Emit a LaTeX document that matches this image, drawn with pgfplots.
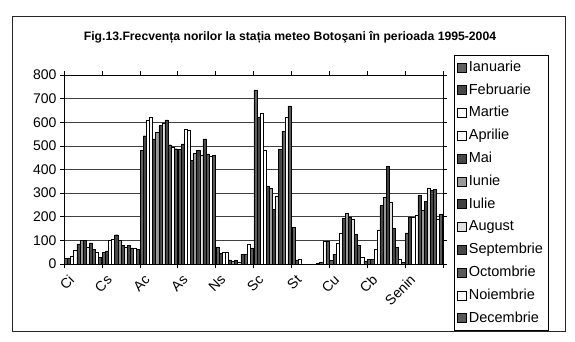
\documentclass[border=0pt]{standalone}
\usepackage{fontspec}
\setmainfont{Liberation Sans}
\usepackage{pgfplots}
\pgfplotsset{compat=1.18}
\begin{document}
\begin{tikzpicture}[x=1pt,y=1pt]
\path[fill=white] (0,0) rectangle (575,341);
\draw[line width=1pt, black!85] (12,10) rectangle (565,324);
\node[font=\bfseries\fontsize{12.2}{14}\selectfont] at (290,304) {Fig.13.Frecvența norilor la stația meteo Botoşani în perioada 1995-2004};
\begin{axis}[
  at={(64pt,77pt)}, anchor=south west,
  scale only axis, width=379pt, height=189pt,
  ymin=0, ymax=800, ytick={0,100,...,800},
  xmin=-0.5, xmax=9.5,
  xtick={0,...,9},
  xticklabels={Ci,Cs,Ac,As,Ns,Sc,St,Cu,Cb,Senin},
  minor xtick={-0.5,0.5,...,9.5},
  tick align=outside,
  major tick length=4pt, minor tick length=4pt,
  major x tick style={draw=none},
  minor x tick style={black, line width=0.6pt},
  ytick style={black, line width=0.6pt},
  ymajorgrids, grid style={black!75, line width=0.7pt},
  axis line style={black, line width=0.7pt},
  ybar=0pt, bar width=3.1pt,
  /pgf/number format/assume math mode=true,
  ticklabel style={font=\fontsize{14}{16}\selectfont},
  xticklabel style={xshift=-15pt, yshift=-1pt, rotate=45, anchor=north east},
  legend style={at={(1,1)}, anchor=north west, xshift=11pt, yshift=20pt,
    draw=black, line width=0.7pt, font=\fontsize{14.5}{16}\selectfont,
    row sep=4.8pt, inner xsep=3pt, inner ysep=3pt,
    nodes={text height=11pt, text depth=3pt, inner sep=2pt}},
  legend cell align=left,
  legend image code/.code={\draw[#1, draw=black, line width=0.5pt] (0pt,-4.5pt) rectangle (9pt,4.5pt);},
  every axis plot/.append style={draw=black, line width=0.4pt},
]
\addplot[fill=black!62] coordinates {(0,24) (1,49) (2,480) (3,486) (4,73) (5,737) (6,155) (7,14) (8,20) (9,132)};
\addplot[fill=black!72] coordinates {(0,25) (1,56) (2,543) (3,508) (4,45) (5,620) (6,18) (7,42) (8,21) (9,198)};
\addplot[fill=white] coordinates {(0,31) (1,102) (2,610) (3,572) (4,49) (5,638) (6,20) (7,87) (8,64) (9,200)};
\addplot[fill=white] coordinates {(0,59) (1,103) (2,621) (3,565) (4,49) (5,483) (6,1) (7,132) (8,141) (9,208)};
\addplot[fill=black!72] coordinates {(0,85) (1,124) (2,530) (3,440) (4,17) (5,331) (6,0) (7,193) (8,247) (9,292)};
\addplot[fill=black!40] coordinates {(0,99) (1,99) (2,558) (3,469) (4,11) (5,320) (6,0) (7,214) (8,282) (9,226)};
\addplot[fill=black!75] coordinates {(0,99) (1,78) (2,586) (3,480) (4,14) (5,232) (6,0) (7,200) (8,412) (9,266)};
\addplot[fill=black!12] coordinates {(0,73) (1,73) (2,595) (3,459) (4,7) (5,289) (6,0) (7,190) (8,261) (9,320)};
\addplot[fill=black!72] coordinates {(0,89) (1,78) (2,610) (3,530) (4,42) (5,486) (6,3) (7,127) (8,153) (9,312)};
\addplot[fill=black!65] coordinates {(0,63) (1,68) (2,505) (3,466) (4,42) (5,563) (6,8) (7,80) (8,71) (9,316)};
\addplot[fill=white] coordinates {(0,48) (1,66) (2,494) (3,455) (4,82) (5,623) (6,96) (7,28) (8,21) (9,190)};
\addplot[fill=black!65] coordinates {(0,28) (1,63) (2,488) (3,460) (4,68) (5,669) (6,96) (7,11) (8,7) (9,212)};
\legend{Ianuarie,Februarie,Martie,Aprilie,Mai,Iunie,Iulie,August,Septembrie,Octombrie,Noiembrie,Decembrie}
\end{axis}
\end{tikzpicture}
\end{document}
